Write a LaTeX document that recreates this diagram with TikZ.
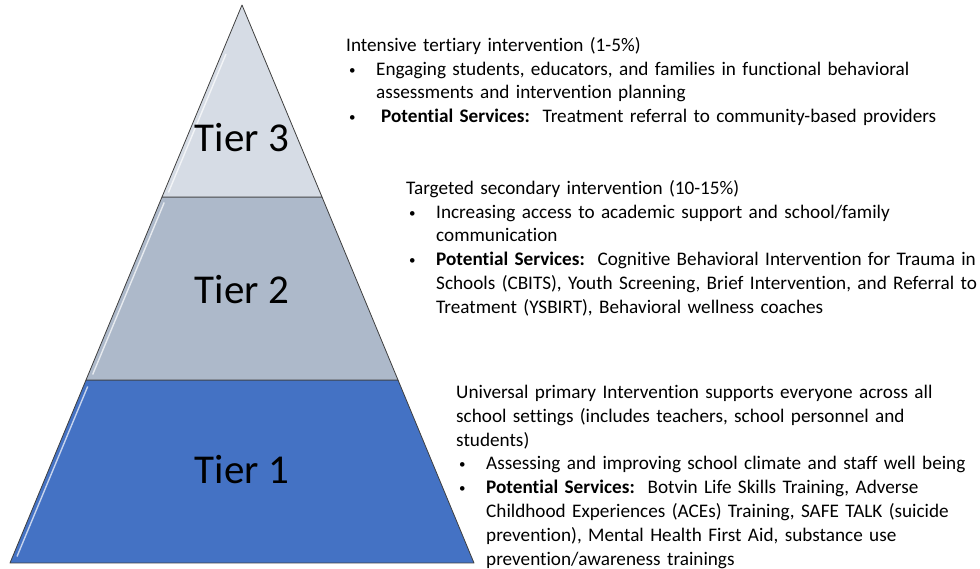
\documentclass[tikz,border=0pt]{standalone}
\usepackage{fontspec}
\setmainfont{Carlito}[Ligatures=NoCommon]
\usetikzlibrary{positioning}
\definecolor{tierone}{HTML}{4472C4}
\definecolor{tiertwo}{HTML}{ADB9CA}
\definecolor{tierthree}{HTML}{D6DCE5}
\definecolor{edgegray}{HTML}{3F3F3F}
% bullet line with hanging indent
\newcommand{\tbullet}[1]{\par\hangindent=30pt\hangafter=1\noindent\hspace*{3pt}\makebox[27pt][l]{\raisebox{1pt}{\fontsize{13}{13}\selectfont\textbullet}}#1\par}

\begin{document}
\begin{tikzpicture}[x=1pt,y=1pt]
        \tikzstyle{every node}=[font=\fontsize{19.2}{23.8}\selectfont]
        \tikzstyle{layer} = [draw=edgegray, line width=0.8pt, line join=round]
        \tikzstyle{shine} = [white, line width=1.4pt, opacity=0.7]
        \tikzstyle{tier} = [font=\fontsize{41}{41}\selectfont, inner sep=0pt]
        \tikzstyle{desc} = [anchor=north west, inner sep=0pt, text width=640pt, align=left]
        \useasboundingbox (0,0) rectangle (980,569);

        % pyramid layers
        \filldraw[layer, fill=tierone] (10,6) -- (474,6) -- (398,189) -- (86,189) -- cycle;
        \filldraw[layer, fill=tiertwo] (86,189) -- (398,189) -- (322,372) -- (162,372) -- cycle;
        \filldraw[layer, fill=tierthree] (162,372) -- (322,372) -- (242,564) -- cycle;

        % bevel highlights on the left edges
        \draw[shine] (87.7,182.5) -- (17,12.5);
        \draw[shine] (164.2,366.5) -- (92.7,194.5);
        \draw[shine] (226,515) -- (168.4,376.5);

        \node[tier](t3) at (242,431) {Tier 3};
        \node[tier](t2) at (242,279) {Tier 2};
        \node[tier](t1) at (242,99) {Tier 1};

        % descriptions
        \node[desc](d3) at (346,532) {\noindent Intensive tertiary intervention (1-5\%)
                \tbullet{Engaging students, educators, and families in functional behavioral\newline assessments and intervention planning}
                \tbullet{\hspace*{5pt}\textbf{Potential Services:}\ \ Treatment referral to community-based providers}};

        \node[desc](d2) at (406,389) {\noindent Targeted secondary intervention (10-15\%)
                \tbullet{Increasing access to academic support and school/family\newline communication}
                \tbullet{\textbf{Potential Services:}\ \ Cognitive Behavioral Intervention for Trauma in\newline Schools (CBITS), Youth Screening, Brief Intervention, and Referral to\newline Treatment (YSBIRT), Behavioral wellness coaches}};

        \node[desc](d1) at (456,184) {\noindent Universal primary Intervention supports everyone across all\newline school settings (includes teachers, school personnel and\newline students)
                \tbullet{Assessing and improving school climate and staff well being}
                \tbullet{\textbf{Potential Services:}\ \ Botvin Life Skills Training, Adverse\newline Childhood Experiences (ACEs) Training, SAFE TALK (suicide\newline prevention), Mental Health First Aid, substance use\newline prevention/awareness trainings}};
\end{tikzpicture}
\end{document}
